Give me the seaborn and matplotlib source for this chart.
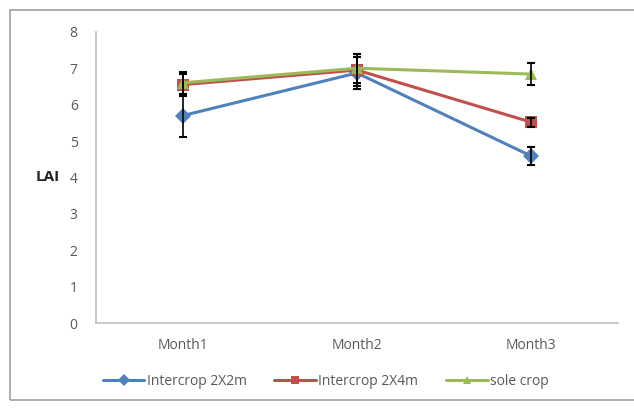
import matplotlib
matplotlib.use('Agg')
import matplotlib.pyplot as plt
import seaborn as sns
import pandas as pd
from matplotlib.patches import Rectangle

months = ['Month1', 'Month2', 'Month3']
series = ['Intercrop 2X2m', 'Intercrop 2X4m', 'sole crop']
lai_2x2 = [5.7, 6.87, 4.59]
lai_2x4 = [6.55, 6.95, 5.52]
lai_sole = [6.6, 7.0, 6.84]
err_2x2 = [0.6, 0.45, 0.25]
err_2x4 = [0.3, 0.45, 0.12]
err_sole = [0.3, 0.4, 0.3]

colors = ['#4F81BD', '#C0504D', '#9BBB59']
markers = ['D', 's', '^']

rows = []
for name, vals in zip(series, [lai_2x2, lai_2x4, lai_sole]):
    for m, v in zip(months, vals):
        rows.append({'month': m, 'series': name, 'LAI': v})
df = pd.DataFrame(rows)

sns.set_style('white')
plt.rcParams['font.family'] = ['Open Sans', 'DejaVu Sans']

fig = plt.figure(figsize=(6.34, 4.08), dpi=100)
ax = fig.add_axes([0.151, 0.208, 0.824, 0.714])

# outer chart frame
fig.patches.append(Rectangle((10 / 634, 8 / 408), 640 / 634, 390 / 408,
                             transform=fig.transFigure, fill=False,
                             edgecolor='#a0a0a0', linewidth=1.2))

sns.lineplot(data=df, x='month', y='LAI', hue='series', style='series',
             palette=colors, markers=markers, dashes=False, linewidth=2.2,
             markersize=8, markeredgewidth=0, ax=ax, sort=False)

x = list(range(len(months)))
for vals, errs in zip([lai_2x2, lai_2x4, lai_sole], [err_2x2, err_2x4, err_sole]):
    ax.errorbar(x, vals, yerr=errs, fmt='none', ecolor='black', elinewidth=1.2,
                capsize=3, capthick=1.5, zorder=5)

ax.set_xlim(-0.5, 2.5)
ax.set_ylim(0, 8)
ax.set_yticks(range(0, 9))
ax.set_xlabel('')
ax.set_ylabel('LAI', rotation=0, fontweight='bold', fontsize=11, color='#222222',
              labelpad=16, va='center')
ax.tick_params(axis='both', labelsize=10, colors='#595959', length=0)
ax.tick_params(axis='y', pad=13)
ax.tick_params(axis='x', pad=11)
for side in ['top', 'right']:
    ax.spines[side].set_visible(False)
for side in ['left', 'bottom']:
    ax.spines[side].set_color('#bfbfbf')
    ax.spines[side].set_linewidth(1.2)

handles, labels = ax.get_legend_handles_labels()
leg = ax.legend(handles, labels, loc='upper center', bbox_to_anchor=(0.44, -0.13),
                ncol=3, frameon=False, fontsize=10, labelcolor='#595959',
                handlelength=3.0, handletextpad=0.15, columnspacing=2.0)
for h in leg.legend_handles:
    h.set_markersize(6)

fig.savefig('out.png', dpi=100)
